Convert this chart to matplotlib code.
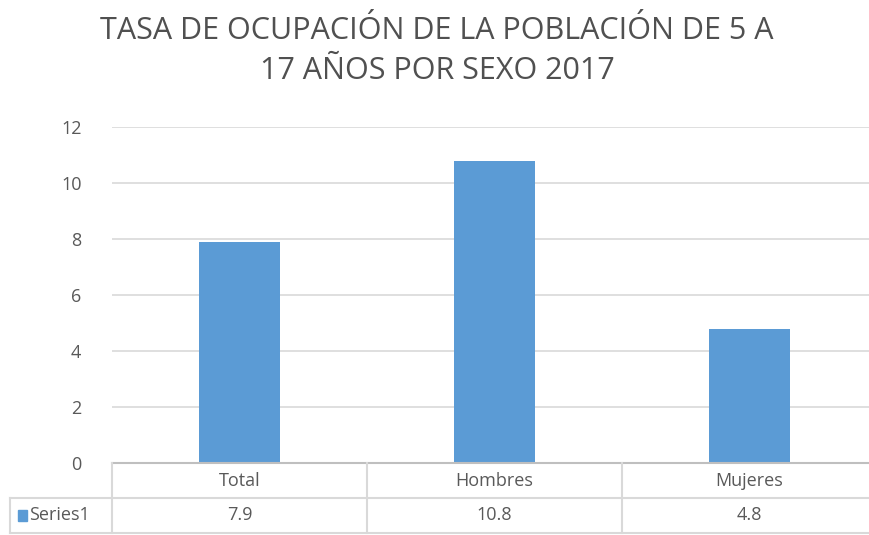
import matplotlib
matplotlib.use("Agg")
import matplotlib.pyplot as plt
from matplotlib import font_manager

categories = ["Total", "Hombres", "Mujeres"]
values = [7.9, 10.8, 4.8]
value_labels = ["7.9", "10.8", "4.8"]
series_name = "Series1"
yticks = [0, 2, 4, 6, 8, 10, 12]
title = "TASA DE OCUPACIÓN DE LA POBLACIÓN DE 5 A\n17 AÑOS POR SEXO 2017"

names = {f.name for f in font_manager.fontManager.ttflist}
fam = "Liberation Sans Narrow" if "Liberation Sans Narrow" in names else "Open Sans"
plt.rcParams["font.family"] = [fam, "DejaVu Sans"]

W, H = 869, 535
fig = plt.figure(figsize=(W / 100, H / 100), dpi=100)

BAR = "#5b9bd5"
TXT = "#595959"
GRID = "#d9d9d9"

left, right = 112, 877
top, bottom = 127, 463
ax = fig.add_axes([left / W, (H - bottom) / H, (right - left) / W, (bottom - top) / H])
x = list(range(len(categories)))
ax.bar(x, values, width=0.315, color=BAR, zorder=2)
ax.set_xlim(-0.5, len(categories) - 0.5)
ax.set_ylim(0, 12)
ax.set_yticks(yticks)
ax.set_yticklabels([str(t) for t in yticks], color=TXT, fontsize=13)
ax.tick_params(axis="y", length=0, pad=22)
ax.set_xticks([])
ax.grid(axis="y", color=GRID, linewidth=1.2, zorder=0)
for s in ["top", "right", "left"]:
    ax.spines[s].set_visible(False)
ax.spines["bottom"].set_color("#bfbfbf")
ax.spines["bottom"].set_linewidth(1.5)
ax.spines["bottom"].set_zorder(3)

# data table
tb_top, tb_bot = 463, 533
tax = fig.add_axes([left / W, (H - tb_bot) / H, (right - left) / W, (tb_bot - tb_top) / H])
tax.set_xlim(-0.5, len(categories) - 0.5)
tax.set_ylim(0, 2)
tax.axis("off")
unit = (right - left) / len(categories)
lab_left = -0.5 - (left - 10) / unit
lc = GRID
lw = 1.5
for i in range(len(categories)):
    tax.plot([i - 0.5, i - 0.5], [0, 2], color=lc, lw=lw, clip_on=False)
tax.plot([lab_left, lab_left], [0, 1], color=lc, lw=lw, clip_on=False)
tax.plot([lab_left, len(categories) - 0.5], [1, 1], color=lc, lw=lw, clip_on=False)
tax.plot([lab_left, len(categories) - 0.5], [0, 0], color=lc, lw=lw, clip_on=False)
for i, (c, v) in enumerate(zip(categories, value_labels)):
    tax.text(i, 1.5, c, ha="center", va="center", fontsize=13, color=TXT)
    tax.text(i, 0.5, v, ha="center", va="center", fontsize=13, color=TXT)
tax.add_patch(plt.Rectangle((lab_left + 0.03, 0.33), 0.035, 0.34, color=BAR, clip_on=False))
tax.text(lab_left + 0.075, 0.5, series_name, ha="left", va="center", fontsize=13, color=TXT)

fig.text(437 / W, 1 - 51 / H, title, ha="center", va="center", fontsize=22,
         color="#505050", linespacing=1.45)

fig.savefig("out.png", dpi=100)
